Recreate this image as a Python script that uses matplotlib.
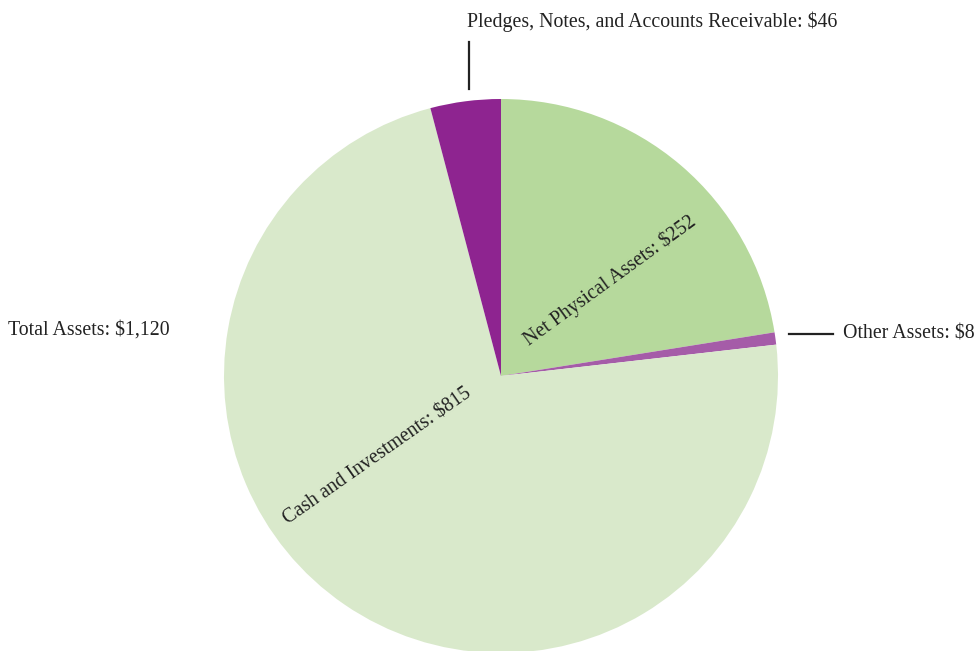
import numpy as np
import matplotlib
matplotlib.use('Agg')
from matplotlib import pyplot as plt

labels = ['Net Physical Assets', 'Other Assets', 'Cash and Investments',
          'Pledges, Notes, and Accounts Receivable']
values = [252, 8, 815, 46]
total_label = 'Total Assets: $1,120'
colors = ['#b6d99c', '#a55ca8', '#d9e9cb', '#8e2490']

W, H = 976, 651
plt.rcParams['font.family'] = ['Liberation Serif', 'DejaVu Serif']

fig = plt.figure(figsize=(W / 100, H / 100), dpi=100)
ax = fig.add_axes([0, 0, 1, 1])

cx, cy, r = 501, H - 376, 277
ax.pie(values, colors=colors, startangle=90, counterclock=False,
       center=(cx, cy), radius=r, frame=True,
       wedgeprops=dict(linewidth=0))
ax.set_xlim(0, W)
ax.set_ylim(0, H)
ax.axis('off')

def y(v):
    return H - v

fs = 14.3
# inside labels
ax.text(610, y(281), f'{labels[0]}: ${values[0]}', rotation=36,
        ha='center', va='center', fontsize=fs, color='#222222',
        rotation_mode='anchor')
ax.text(378, y(457), f'{labels[2]}: ${values[2]}', rotation=35,
        ha='center', va='center', fontsize=fs, color='#222222',
        rotation_mode='anchor')

# outside labels
ax.plot([469, 469], [y(42), y(89)], color='#222222', lw=1.6)
ax.text(467, y(22), f'{labels[3]}: ${values[3]}', ha='left', va='center',
        fontsize=fs, color='#222222')
ax.plot([789, 833], [y(334), y(334)], color='#222222', lw=1.6)
ax.text(843, y(334), f'{labels[1]}: ${values[1]}', ha='left', va='center',
        fontsize=fs, color='#222222')
ax.text(8, y(330), total_label, ha='left', va='center',
        fontsize=fs, color='#222222')

fig.savefig('out.png', dpi=100)
